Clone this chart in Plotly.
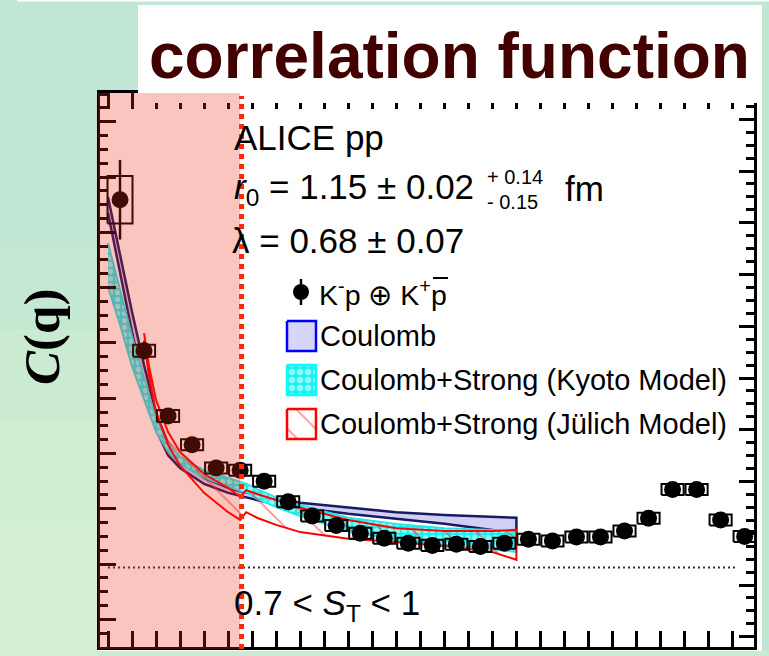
import plotly.graph_objects as go

W, H = 769, 656

# ---------------- data ----------------
k_star = [5, 15, 25, 35, 45, 55, 65, 75, 85, 95, 105, 115, 125, 135, 145,
          155, 165, 175, 185, 195, 205, 215, 225, 235, 245, 255, 265]
c_data = [1.665, 1.392, 1.274, 1.222, 1.180, 1.176, 1.156, 1.119, 1.093, 1.076,
          1.062, 1.053, 1.044, 1.040, 1.042, 1.038, 1.044, 1.051, 1.048, 1.055,
          1.055, 1.066, 1.089, 1.141, 1.141, 1.086, 1.056]
stat_err = [0.072, 0.016, 0.010, 0.009, 0.008, 0.008, 0.007, 0.007, 0.007, 0.006,
            0.006, 0.006, 0.006, 0.006, 0.006, 0.006, 0.006, 0.006, 0.006, 0.006,
            0.006, 0.006, 0.006, 0.006, 0.006, 0.006, 0.006]
sys_err = [0.043, 0.011, 0.011, 0.010, 0.010, 0.010, 0.010, 0.010, 0.010, 0.010,
           0.010, 0.010, 0.010, 0.010, 0.010, 0.010, 0.010, 0.010, 0.010, 0.010,
           0.010, 0.010, 0.010, 0.010, 0.010, 0.010, 0.010]
sys_dk = [5.2, 4.6, 4.6, 4.6, 4.6, 4.6, 4.6, 4.6, 4.6, 4.6, 4.6, 4.6, 4.6, 4.6,
          4.6, 4.6, 4.6, 4.6, 4.6, 4.6, 4.6, 4.6, 4.6, 4.6, 4.6, 4.6, 4.6]

band_k = [0, 5, 10, 15, 20, 25, 30, 40, 50, 55, 58, 62, 70, 80, 100, 120, 140, 160, 170]
coulomb_hi = [1.670, 1.565, 1.462, 1.366, 1.279, 1.225, 1.194, 1.162, 1.144, 1.138,
              1.135, 1.131, 1.124, 1.117, 1.108, 1.100, 1.095, 1.091, 1.090]
coulomb_lo = [1.641, 1.534, 1.426, 1.330, 1.249, 1.203, 1.180, 1.151, 1.135, 1.129,
              1.126, 1.122, 1.115, 1.108, 1.097, 1.088, 1.079, 1.068, 1.057]
kyoto_hi = [1.587, 1.502, 1.419, 1.343, 1.270, 1.225, 1.200, 1.176, 1.162, 1.155,
            1.151, 1.142, 1.127, 1.113, 1.090, 1.079, 1.071, 1.068, 1.066]
kyoto_lo = [1.507, 1.439, 1.363, 1.303, 1.245, 1.209, 1.187, 1.162, 1.146, 1.138,
            1.135, 1.124, 1.109, 1.093, 1.066, 1.050, 1.041, 1.033, 1.028]

julich_k = [15, 17, 20, 25, 30, 40, 50, 55, 57.5, 62, 70, 80, 100, 120, 140, 160, 170]
julich_hi = [1.424, 1.366, 1.303, 1.245, 1.209, 1.169, 1.144, 1.128, 1.140, 1.133,
             1.122, 1.108, 1.086, 1.071, 1.066, 1.066, 1.068]
julich_lo = [1.411, 1.348, 1.281, 1.222, 1.184, 1.135, 1.100, 1.086, 1.100, 1.090,
             1.077, 1.064, 1.052, 1.046, 1.039, 1.028, 1.014]

threshold_k = 55.6
baseline_c = 1.0
baseline_k = [0, 261.5]

# ---------------- helpers ----------------
def px(x):
    return x / W

def py(y):
    return 1 - y / H

fig = go.Figure()

def band(xs, hi, lo, **kw):
    fig.add_trace(go.Scatter(x=list(xs) + list(xs)[::-1], y=list(hi) + list(lo)[::-1],
                             mode="lines", fill="toself", hoverinfo="skip", **kw))

# Coulomb
band(band_k, coulomb_hi, coulomb_lo, fillcolor="rgb(208,208,246)",
     line=dict(color="#1a1a62", width=2.5))
# Kyoto
band(band_k, kyoto_hi, kyoto_lo, fillcolor="rgba(0,0,0,0)",
     fillpattern=dict(shape=".", fgcolor="white", bgcolor="#19f0f0", size=7, solidity=0.45),
     line=dict(color="#22e6ea", width=1.8))
# Julich
band(julich_k, julich_hi, julich_lo, fillcolor="rgba(0,0,0,0)",
     fillpattern=dict(shape="\\", fgcolor="#ff2020", bgcolor="rgba(0,0,0,0)", size=22, solidity=0.08),
     line=dict(color="#ff0000", width=2))

# C = 1 reference line
fig.add_trace(go.Scatter(x=baseline_k, y=[baseline_c, baseline_c], mode="lines",
                         line=dict(color="#333333", width=1.8, dash="2px,3px"), hoverinfo="skip"))

# systematic boxes
bx, by = [], []
for k, c, s, d in zip(k_star, c_data, sys_err, sys_dk):
    bx += [k - d, k + d, k + d, k - d, k - d, None]
    by += [c - s, c - s, c + s, c + s, c - s, None]
fig.add_trace(go.Scatter(x=bx, y=by, mode="lines", line=dict(color="black", width=2),
                         hoverinfo="skip"))

# data
fig.add_trace(go.Scatter(x=k_star, y=c_data, mode="markers",
                         marker=dict(color="black", size=17, line=dict(width=0)),
                         error_y=dict(type="data", array=stat_err, thickness=2.5, width=0,
                                      color="black")))

# legend keys drawn in a pixel-space overlay
def key_box(x0, y0, x1, y1, **kw):
    fig.add_trace(go.Scatter(x=[x0, x1, x1, x0, x0], y=[y0, y0, y1, y1, y0], mode="lines",
                             fill="toself", xaxis="x2", yaxis="y3", hoverinfo="skip", **kw))

key_box(287, 321, 316, 351, fillcolor="rgb(214,214,248)", line=dict(color="#0000ff", width=2.5))
key_box(287, 365, 316, 395, fillcolor="rgba(0,0,0,0)",
        fillpattern=dict(shape=".", fgcolor="white", bgcolor="#19f0f0", size=8, solidity=0.5),
        line=dict(color="#00ffff", width=2.5))
key_box(287, 409, 316, 439, fillcolor="rgba(0,0,0,0)",
        fillpattern=dict(shape="\\", fgcolor="#ff2020", bgcolor="rgba(0,0,0,0)", size=20, solidity=0.08),
        line=dict(color="#ff0000", width=2.5))
fig.add_trace(go.Scatter(x=[301, 301], y=[279, 305], mode="lines", xaxis="x2", yaxis="y3",
                         line=dict(color="black", width=2.5), hoverinfo="skip"))
fig.add_trace(go.Scatter(x=[301], y=[292], mode="markers", xaxis="x2", yaxis="y3",
                         marker=dict(color="black", size=16), hoverinfo="skip"))

# ---------------- axes ----------------
tick_common = dict(showgrid=False, zeroline=False, showticklabels=False, ticks="inside",
                   showline=True, linecolor="black", linewidth=3, tickcolor="black")

fig.update_layout(
    width=W, height=H, autosize=False,
    margin=dict(l=0, r=0, t=0, b=0, pad=0),
    paper_bgcolor="#c1e6d3", plot_bgcolor="rgba(0,0,0,0)",
    showlegend=False,
    xaxis=dict(domain=[px(100), px(754)], range=[-3.33, 268.9], anchor="y",
               tick0=0, dtick=50, ticklen=16, tickwidth=2.5, mirror="allticks",
               minor=dict(dtick=10, tick0=0, ticklen=8, tickwidth=2.5, ticks="inside",
                          tickcolor="black", showgrid=False),
               **tick_common),
    yaxis=dict(domain=[py(647), py(93)], range=[0.85624, 1.85805], anchor="x",
               tick0=1.00615, dtick=0.1, ticklen=16, tickwidth=2.5,
               minor=dict(dtick=0.025, tick0=1.00615, ticklen=7.5, tickwidth=2.5,
                          ticks="inside", tickcolor="black", showgrid=False),
               **tick_common),
    yaxis2=dict(overlaying="y", side="right", anchor="x", range=[0.88019, 1.95072],
                tick0=1.0, dtick=0.1, ticklen=15, tickwidth=2.5,
                minor=dict(dtick=0.025, tick0=1.0, ticklen=8, tickwidth=2.5,
                           ticks="inside", tickcolor="black", showgrid=False),
                **tick_common),
    xaxis2=dict(domain=[0, 1], range=[0, W], anchor="y3", visible=False, fixedrange=True),
    yaxis3=dict(domain=[0, 1], range=[H, 0], anchor="x2", visible=False, fixedrange=True),
)

# invisible trace so the right axis is drawn
fig.add_trace(go.Scatter(x=[None], y=[None], yaxis="y2", mode="lines", showlegend=False))

# ---------------- shapes ----------------
shapes = []
# soft lighter glow on the left background (stepped gradient)
for y0, y1, op in [(250, 330, 0.2), (330, 420, 0.4), (420, 520, 0.6), (520, 656, 0.75)]:
    shapes.append(dict(type="rect", xref="paper", yref="paper", x0=0, x1=px(97),
                       y0=py(y1), y1=py(y0), fillcolor="#d8f1d0", line=dict(width=0),
                       layer="below", opacity=op))
shapes.append(dict(type="rect", xref="paper", yref="paper", x0=px(97), x1=px(769),
                   y0=0, y1=py(651), fillcolor="#d0eed2", line=dict(width=0),
                   layer="below", opacity=0.6))
shapes += [
    # white plot page
    dict(type="rect", xref="paper", yref="paper", x0=px(97), x1=px(762), y0=py(651), y1=py(93),
         fillcolor="white", line=dict(width=0), layer="below"),
    # thin white strip on top
    dict(type="rect", xref="paper", yref="paper", x0=px(17), x1=1, y0=py(1.5), y1=1,
         fillcolor="white", line=dict(width=0), layer="above"),
    # title box
    dict(type="rect", xref="paper", yref="paper", x0=px(138), x1=px(762), y0=py(103), y1=py(5),
         fillcolor="white", line=dict(width=0), layer="above"),
    # translucent red region below threshold
    dict(type="rect", xref="paper", yref="paper", x0=px(98), x1=px(240), y0=py(649), y1=py(93),
         fillcolor="rgb(237,37,18)", opacity=0.27, line=dict(width=0), layer="above"),
    # threshold dotted line
    dict(type="line", xref="x", yref="paper", x0=threshold_k, x1=threshold_k, y0=py(649), y1=py(96),
         line=dict(color="#fa2a0c", width=5, dash="dot"), layer="above"),
    # overline of anti-proton
    dict(type="line", xref="paper", yref="paper", x0=px(433), x1=px(448), y0=py(278), y1=py(278),
         line=dict(color="black", width=2), layer="above"),
]
fig.update_layout(shapes=shapes)

# ---------------- texts ----------------
def ann(x, y, text, size, family="Liberation Sans", color="black", xanchor="left",
        yanchor="middle", angle=0):
    return dict(x=x, y=y, xref="x2", yref="y3", text=text, showarrow=False,
                xanchor=xanchor, yanchor=yanchor, textangle=angle,
                font=dict(family=family, size=size, color=color))

anns = [
    ann(147, 56, "<b>correlation function</b>", 64, color="#420000"),
    ann(232, 137, "ALICE pp", 35),
    ann(232, 189, "<i>r</i><sub>0</sub> = 1.15 ± 0.02", 35),
    ann(485, 177, "+ 0.14", 20),
    ann(485, 202, "- 0.15", 20),
    ann(563, 188, "fm", 35),
    ann(230, 240, "λ = 0.68 ± 0.07", 35),
    ann(317, 293, "K<sup>-</sup>p ⊕ K<sup>+</sup>p", 28.5),
    ann(318, 336, "Coulomb", 29),
    ann(318, 380, "Coulomb+Strong (Kyoto Model)", 29),
    ann(318, 424, "Coulomb+Strong (Jülich Model)", 29),
    ann(232, 605, "0.7 < <i>S</i><sub>T</sub> < 1", 35),
    ann(42, 337, "<b><i>C</i>(q)</b>", 51, family="Liberation Serif", xanchor="center", angle=-90),
]
fig.update_layout(annotations=anns)

fig.write_html("out.html", config={"displayModeBar": False},
               post_script="document.body.style.margin='0px';document.body.style.overflow='hidden';")
